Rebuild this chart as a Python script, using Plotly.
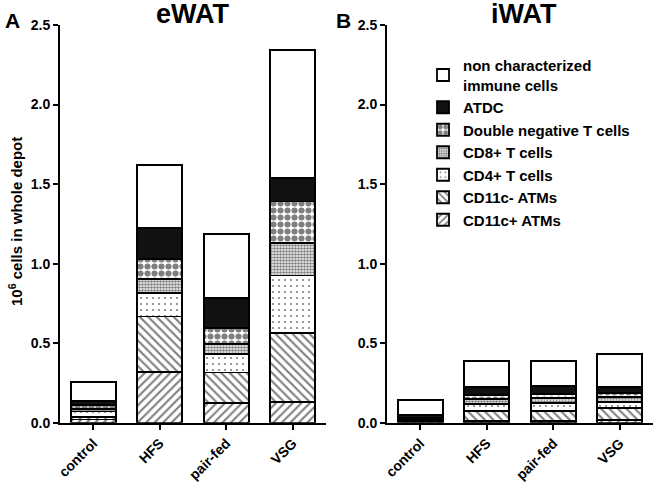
import plotly.graph_objects as go

groups = ["control", "HFS", "pair-fed", "VSG"]
series_names = ["CD11c+ ATMs", "CD11c- ATMs", "CD4+ T cells", "CD8+ T cells",
                "Double negative T cells", "ATDC", "non characterized<br>immune cells"]

# eWAT (10^6 cells)
ewat_cd11c_pos = [0.020, 0.321, 0.122, 0.128]
ewat_cd11c_neg = [0.018, 0.346, 0.193, 0.438]
ewat_cd4 = [0.032, 0.147, 0.117, 0.359]
ewat_cd8 = [0.015, 0.090, 0.061, 0.207]
ewat_dn = [0.026, 0.126, 0.103, 0.258]
ewat_atdc = [0.027, 0.196, 0.190, 0.149]
ewat_non = [0.120, 0.394, 0.401, 0.805]

# iWAT (10^6 cells)
iwat_cd11c_pos = [0.008, 0.010, 0.010, 0.015]
iwat_cd11c_neg = [0.008, 0.065, 0.065, 0.075]
iwat_cd4 = [0.008, 0.043, 0.047, 0.042]
iwat_cd8 = [0.004, 0.029, 0.031, 0.028]
iwat_dn = [0.004, 0.027, 0.027, 0.029]
iwat_atdc = [0.016, 0.048, 0.051, 0.037]
iwat_non = [0.095, 0.168, 0.159, 0.206]

y_ticks = [0.0, 0.5, 1.0, 1.5, 2.0, 2.5]

ewat = [ewat_cd11c_pos, ewat_cd11c_neg, ewat_cd4, ewat_cd8, ewat_dn, ewat_atdc, ewat_non]
iwat = [iwat_cd11c_pos, iwat_cd11c_neg, iwat_cd4, iwat_cd8, iwat_dn, iwat_atdc, iwat_non]

styles = [
    dict(color="white", pattern=dict(shape="/", size=6, solidity=0.35, fgcolor="black", bgcolor="white")),
    dict(color="white", pattern=dict(shape="\\", size=6, solidity=0.35, fgcolor="black", bgcolor="white")),
    dict(color="white", pattern=dict(shape=".", size=6, solidity=0.1, fgcolor="black", bgcolor="white")),
    dict(color="white", pattern=dict(shape=".", size=3, solidity=0.6, fgcolor="black", bgcolor="white")),
    dict(color="white", pattern=dict(shape=".", size=7, solidity=0.6, fgcolor="black", bgcolor="white")),
    dict(color="#111111"),
    dict(color="white"),
]

FONT = "Liberation Sans, Arial, sans-serif"
fig = go.Figure()

for data, xa, ya, show in [(ewat, "x", "y", True), (iwat, "x2", "y2", False)]:
    for name, vals, st in zip(series_names, data, styles):
        marker = dict(line=dict(color="black", width=1.8), **st)
        fig.add_trace(go.Bar(x=groups, y=vals, name=name, xaxis=xa, yaxis=ya,
                             marker=marker, showlegend=show, legendgroup=name))

W, H = 653, 483
ydom = [(H - 422.7) / H, (H - 25) / H]
axis_common = dict(showline=True, linecolor="black", linewidth=2, ticks="outside",
                   ticklen=5, tickwidth=2, tickcolor="black", showgrid=False,
                   zeroline=False, automargin=False)
yfont = dict(family=FONT, size=14, color="black", weight="bold")
xfont = dict(family=FONT, size=14, color="black", weight="bold")

fig.update_layout(
    width=W, height=H, barmode="stack", bargap=0.32,
    plot_bgcolor="white", paper_bgcolor="white",
    margin=dict(l=0, r=0, t=0, b=0),
    font=dict(family=FONT, color="black", weight="bold"),
    xaxis=dict(domain=[60 / W, 326 / W], anchor="y", tickangle=-45, tickfont=xfont, **axis_common),
    yaxis=dict(domain=ydom, range=[0, 2.5], tickvals=y_ticks, tickformat=".1f", anchor="x",
               tickfont=yfont, **axis_common),
    xaxis2=dict(domain=[387 / W, 1.0], anchor="y2", tickangle=-45, tickfont=xfont, **axis_common),
    yaxis2=dict(domain=ydom, range=[0, 2.5], tickvals=y_ticks, tickformat=".1f", anchor="x2",
                tickfont=yfont, **axis_common),
    legend=dict(x=423 / W, y=1 - 49 / H, xanchor="left", yanchor="top", traceorder="reversed",
                font=dict(family=FONT, size=15, color="black", weight="bold"),
                bgcolor="rgba(0,0,0,0)", tracegroupgap=4),
    annotations=[
        dict(text="A", x=3 / W, y=1 - 21 / H, xref="paper", yref="paper", xanchor="left", yanchor="middle",
             showarrow=False, font=dict(family=FONT, size=21, weight="bold")),
        dict(text="B", x=334 / W, y=1 - 21 / H, xref="paper", yref="paper", xanchor="left", yanchor="middle",
             showarrow=False, font=dict(family=FONT, size=21, weight="bold")),
        dict(text="eWAT", x=193 / W, y=1 - 14 / H, xref="paper", yref="paper", xanchor="center", yanchor="middle",
             showarrow=False, font=dict(family=FONT, size=27, weight="bold")),
        dict(text="iWAT", x=524 / W, y=1 - 14 / H, xref="paper", yref="paper", xanchor="center", yanchor="middle",
             showarrow=False, font=dict(family=FONT, size=27, weight="bold")),
        dict(text="10<sup>6</sup> cells in whole depot", x=15 / W, y=1 - 222 / H, xref="paper", yref="paper",
             xanchor="center", yanchor="middle", textangle=-90, showarrow=False,
             font=dict(family=FONT, size=15, weight="bold")),
    ],
)

fig.write_html("out.html", config={"displayModeBar": False},
               post_script="document.body.style.margin='0';document.body.style.overflow='hidden';")
